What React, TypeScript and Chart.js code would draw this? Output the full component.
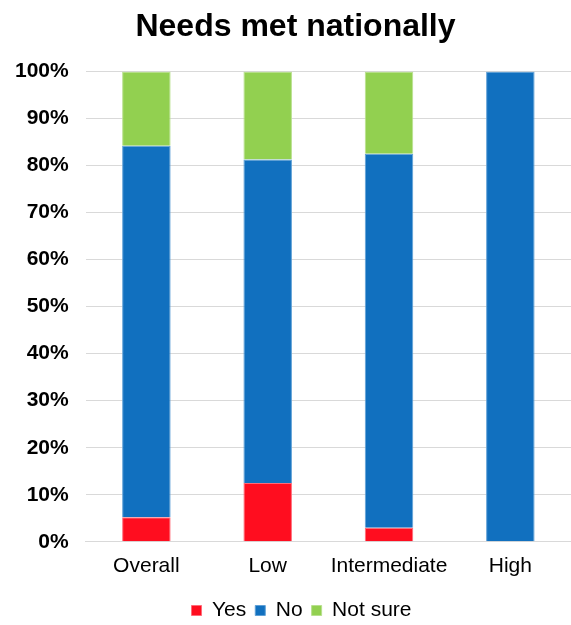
import React, { useEffect, useRef } from "react";
import { Chart, registerables } from "chart.js";

Chart.register(...registerables);

const categories = ["Overall", "Low", "Intermediate", "High"];
const yesValues = [5.2, 12.5, 3.0, 0];
const noValues = [79.0, 68.75, 79.5, 100];
const notSureValues = [15.8, 18.75, 17.5, 0];
const seriesNames = ["Yes", "No", "Not sure"];
const yTickValues = [0, 10, 20, 30, 40, 50, 60, 70, 80, 90, 100];

const FONT = "'Liberation Sans', Arial, Helvetica, sans-serif";

const shiftPlugin = {
  id: "shiftBoxes",
  afterLayout(chart: any) {
    const t = chart.titleBlock;
    if (t) {
      t.left += 11;
      t.right += 11;
    }
    const l = chart.legend;
    if (l) {
      l.left += 17;
      l.right += 17;
    }
  },
};

export default function App() {
  const ref = useRef<HTMLCanvasElement | null>(null);
  useEffect(() => {
    if (!ref.current) return;
    const chart = new Chart(ref.current, {
      type: "bar",
      data: {
        labels: categories,
        datasets: [
          { label: seriesNames[0], data: yesValues, backgroundColor: "#FF0D1F", borderColor: "#FF6B78", borderWidth: 1 },
          { label: seriesNames[1], data: noValues, backgroundColor: "#1170BF", borderColor: "#5FA0D6", borderWidth: 1 },
          { label: seriesNames[2], data: notSureValues, backgroundColor: "#92D050", borderColor: "#B8E08E", borderWidth: 1 },
        ],
      },
      plugins: [shiftPlugin],
      options: {
        animation: false,
        responsive: false,
        maintainAspectRatio: false,
        layout: { padding: { left: -2, right: 0, top: 0, bottom: -6 } },
        datasets: { bar: { barPercentage: 0.8, categoryPercentage: 0.5 } },
        scales: {
          x: {
            stacked: true,
            grid: { display: false, drawTicks: false },
            border: { display: true, color: "#D9D9D9", width: 1 },
            ticks: {
              color: "#000",
              font: { family: FONT, size: 21 },
              padding: 12,
              maxRotation: 0,
              minRotation: 0,
              autoSkip: false,
            },
          },
          y: {
            stacked: true,
            min: 0,
            max: 100,
            afterBuildTicks: (axis: any) => {
              axis.ticks = yTickValues.map((v) => ({ value: v }));
            },
            grid: { color: "#D9D9D9", lineWidth: 1, drawTicks: false },
            border: { display: false },
            ticks: {
              color: "#000",
              font: { family: FONT, size: 21, weight: "bold" },
              padding: 17,
              callback: (v: any) => v + "%",
            },
          },
        },
        plugins: {
          title: {
            display: true,
            text: "Needs met nationally",
            color: "#000",
            font: { family: FONT, size: 32, weight: "bold" },
            padding: { top: 8, bottom: 25 },
          },
          legend: {
            position: "bottom",
            labels: {
              color: "#000",
              font: { family: FONT, size: 21 },
              boxWidth: 10,
              boxHeight: 10,
              padding: 9,
            },
          },
          tooltip: { enabled: false },
        },
      },
    });
    return () => chart.destroy();
  }, []);
  return (
    <div style={{ position: "fixed", left: 0, top: 0, width: 571, height: 625, background: "#fff" }}>
      <canvas ref={ref} width={571} height={625} style={{ display: "block" }} />
    </div>
  );
}
